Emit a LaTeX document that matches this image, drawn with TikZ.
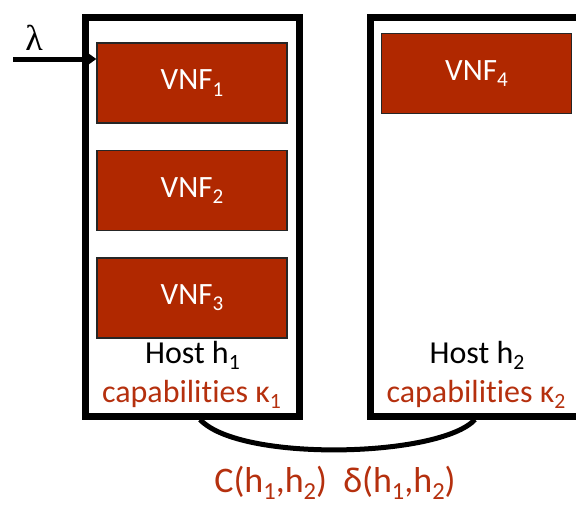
\documentclass[tikz,border=0pt]{standalone}
\usepackage{fontspec}
\usepackage{graphicx}
\setmainfont{Carlito}[Ligatures=NoCommon]
\newfontfamily\lamfont{Liberation Serif}
\usetikzlibrary{arrows.meta}
\definecolor{vnfred}{HTML}{B02800}
\definecolor{txtred}{HTML}{B5300E}
\newcommand{\sbs}[1]{\raisebox{-0.2em}{\scalebox{0.68}{#1}}}
\begin{document}
\begin{tikzpicture}[x=1pt,y=1pt,
  hostbox/.style={draw=black,line width=7pt,minimum width=214pt,minimum height=399pt,inner sep=0pt},
  vnfbox/.style={draw=black!85,fill=vnfred,line width=1.3pt,minimum width=190pt,minimum height=80pt,inner sep=0pt,text=white,font=\fontsize{31}{37}\selectfont},
  hosttxt/.style={anchor=base,inner sep=0pt,font=\fontsize{32}{37}\selectfont},
  captxt/.style={anchor=base,inner sep=0pt,text=txtred,font=\fontsize{32}{37}\selectfont},
  link/.style={line width=5pt,draw=black}]
\useasboundingbox (0,0) rectangle (576,-504);
\clip (0,0) rectangle (576,-504);
\node[hostbox] (host1) at (192.5,-216.5) {};
\node[hostbox,minimum width=212pt] (host2) at (476,-216.5) {};
\node[vnfbox] (vnf1) at (192,-83) {VNF\sbs{1}};
\node[vnfbox] (vnf2) at (192,-190.5) {VNF\sbs{2}};
\node[vnfbox] (vnf3) at (192,-298) {VNF\sbs{3}};
\node[vnfbox] (vnf4) at (476.5,-73.5) {VNF\sbs{4}};
\node[hosttxt] (h1) at (192.5,-363) {Host h\sbs{1}};
\node[captxt] (c1) at (191.5,-402) {capabilities κ\sbs{1}};
\node[hosttxt] (h2) at (477,-363) {Host h\sbs{2}};
\node[captxt] (c2) at (476,-402) {capabilities κ\sbs{2}};
\node[inner sep=0pt,anchor=base,font=\lamfont\fontsize{36}{40}\selectfont] (lam) at (34,-50) {λ};
\coordinate (in) at (13,-59);
\draw[line width=5pt,-{Triangle[length=11pt,width=15pt]}] (in) -- (in -| vnf1.west);
\draw[link] ([xshift=7.5pt]host1.south) .. controls +(40,-43) and +(-35,-38) .. ([xshift=-1pt]host2.south);
\node[captxt,font=\fontsize{36}{40}\selectfont] (cost) at (335,-492) {C(h\sbs{1},h\sbs{2})\ \ δ(h\sbs{1},h\sbs{2})};
\end{tikzpicture}
\end{document}
